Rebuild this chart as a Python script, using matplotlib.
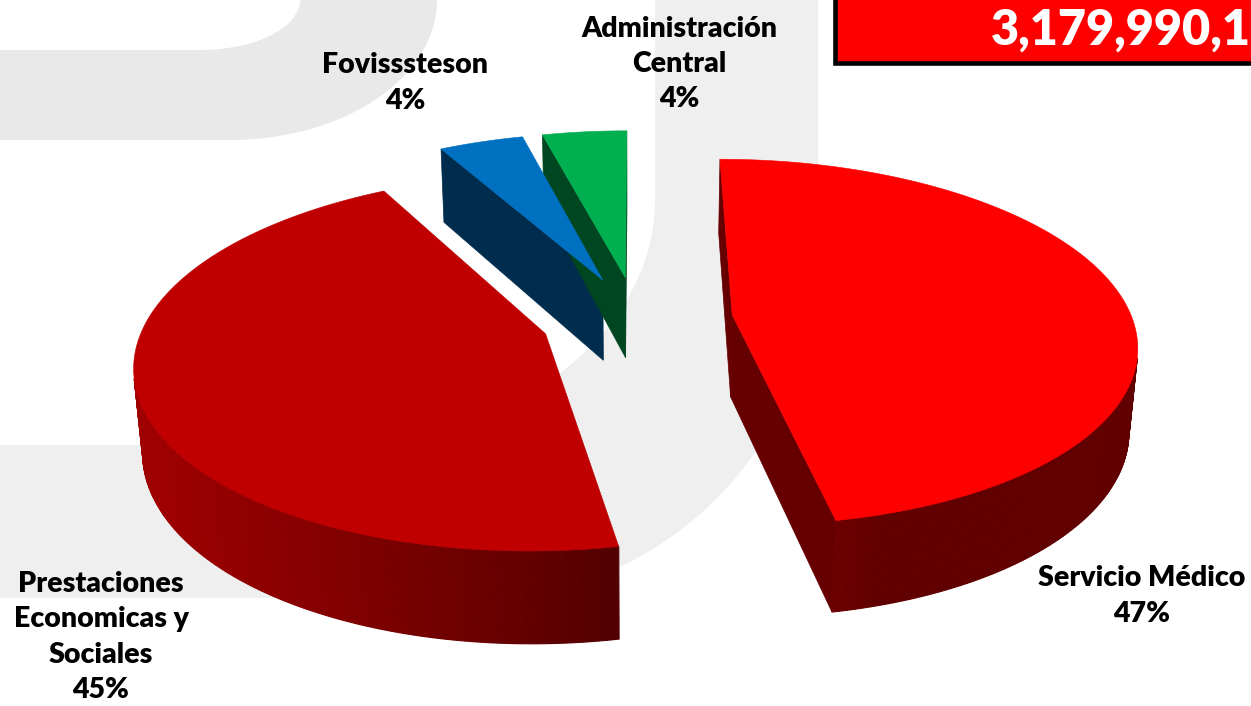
import numpy as np
import matplotlib
matplotlib.use("Agg")
import matplotlib.pyplot as plt
from matplotlib.patches import Polygon, Rectangle
from matplotlib.colors import to_rgb

# ---------------- data ----------------
categories = ["Servicio Médico", "Prestaciones\nEconomicas y\nSociales",
              "Fovisssteson", "Administración\nCentral"]
values = [47, 45, 4, 4]
colors = ["#FF0000", "#C00000", "#0070C0", "#00B050"]
total_label = "3,179,990,1"

# ---------------- figure ----------------
W, H = 1251, 706
fig = plt.figure(figsize=(W / 100, H / 100), dpi=100)
ax = fig.add_axes([0, 0, 1, 1])
ax.set_xlim(0, W)
ax.set_ylim(H, 0)
ax.axis("off")

FONT = ["Lato", "DejaVu Sans"]

# ---------------- watermark background ----------------
t = np.linspace(0, np.pi / 2, 60)
band = [(0, 50), (200, 50)]
band += list(zip(200 + 100 * np.sin(t), 50 * np.cos(t)))
band += [(437, 0)]
band += list(zip(230 + 207 * np.cos(t), 140 * np.sin(t)))
band += [(0, 140)]
ax.add_patch(Polygon(band, closed=True, fc="#E9E9E9", ec="none", zorder=0))

jshape = [(655, 0), (655, 200)]
jshape += list(zip(330 + 325 * np.cos(t), 200 + 245 * np.sin(t)))
jshape += [(0, 445), (0, 598), (480, 598)]
jshape += list(zip(480 + 338 * np.cos(t[::-1]), 250 + 348 * np.sin(t[::-1])))
jshape += [(818, 0)]
ax.add_patch(Polygon(jshape, closed=True, fc="#EFEFEF", ec="none", zorder=0))

# ---------------- 3D pie projection ----------------
sa = 0.45
ca = np.sqrt(1 - sa ** 2)
dist = 6.0
scale = 400.0
cx, cy = 637.0, 319.0
thick = 0.234
explode = 0.24
cam = np.array([0.0, -dist * ca, dist * sa])
light = np.array([-1.0, -0.3])
light = light / np.linalg.norm(light)


def proj(X, D, Z):
    u = X
    v = D * sa + Z * ca
    w = D * ca - Z * sa + dist
    return cx + scale * u * dist / w, cy - scale * v * dist / w


def visible(normal, point):
    return np.dot(normal, cam - np.asarray(point)) > 0


def shade(rgb, f):
    return tuple(np.clip(np.array(rgb) * f, 0, 1))


vals = np.array(values, dtype=float)
fr = vals / vals.sum()
ends = np.cumsum(fr) * 2 * np.pi
starts = ends - fr * 2 * np.pi

for i in range(len(values)):
    t0, t1 = starts[i], ends[i]
    mid = (t0 + t1) / 2
    ox, oy = explode * np.sin(mid), explode * np.cos(mid)
    rgb = to_rgb(colors[i])
    n = max(10, int(np.degrees(t1 - t0) * 2))
    th = np.linspace(t0, t1, n)
    X = np.sin(th) + ox
    D = np.cos(th) + oy

    # cut faces
    for tt, nrm in ((t0, np.array([-np.cos(t0), np.sin(t0), 0.0])),
                    (t1, np.array([np.cos(t1), -np.sin(t1), 0.0]))):
        px, pd = np.sin(tt) + ox, np.cos(tt) + oy
        centre = [(ox + px) / 2, (oy + pd) / 2, -thick / 2]
        if visible(nrm, centre):
            pts = [proj(ox, oy, 0), proj(px, pd, 0), proj(px, pd, -thick), proj(ox, oy, -thick)]
            c = shade(rgb, 0.4)
            ax.add_patch(Polygon(pts, closed=True, fc=c, ec=c, lw=0.5, zorder=2))

    # curved outer wall
    for k in range(n - 1):
        tm = (th[k] + th[k + 1]) / 2
        nrm = np.array([np.sin(tm), np.cos(tm), 0.0])
        pt = [np.sin(tm) + ox, np.cos(tm) + oy, -thick / 2]
        if visible(nrm, pt):
            lum = max(0.0, np.dot(nrm[:2], light))
            c = shade(rgb, 0.38 + 0.45 * lum)
            pts = [proj(X[k], D[k], 0), proj(X[k + 1], D[k + 1], 0),
                   proj(X[k + 1], D[k + 1], -thick), proj(X[k], D[k], -thick)]
            ax.add_patch(Polygon(pts, closed=True, fc=c, ec=c, lw=0.8, zorder=2))

    # top face
    top = [proj(ox, oy, 0)] + [proj(a, b, 0) for a, b in zip(X, D)]
    ax.add_patch(Polygon(top, closed=True, fc=rgb, ec=rgb, lw=0.4, zorder=3))

# ---------------- labels ----------------
pcts = [f"{v:.0f}%" for v in fr * 100]
label_pos = [(1142, 596), (101, 637), (405, 83), (679, 64)]
for cat, p, (lx, ly) in zip(categories, pcts, label_pos):
    ax.text(lx, ly, f"{cat}\n{p}", ha="center", va="center", fontsize=20.5,
            fontweight="heavy", family=FONT, color="black", linespacing=1.45, zorder=6)

# ---------------- total box ----------------
ax.add_patch(Rectangle((835, -20), 440, 82.5, fc="#FF0000", ec="black", lw=3.3, zorder=5))
ax.text(991, 45, total_label, ha="left", va="baseline", fontsize=35, fontweight="heavy",
        family=FONT, color="white", zorder=6)

fig.savefig("out.png", dpi=100)
